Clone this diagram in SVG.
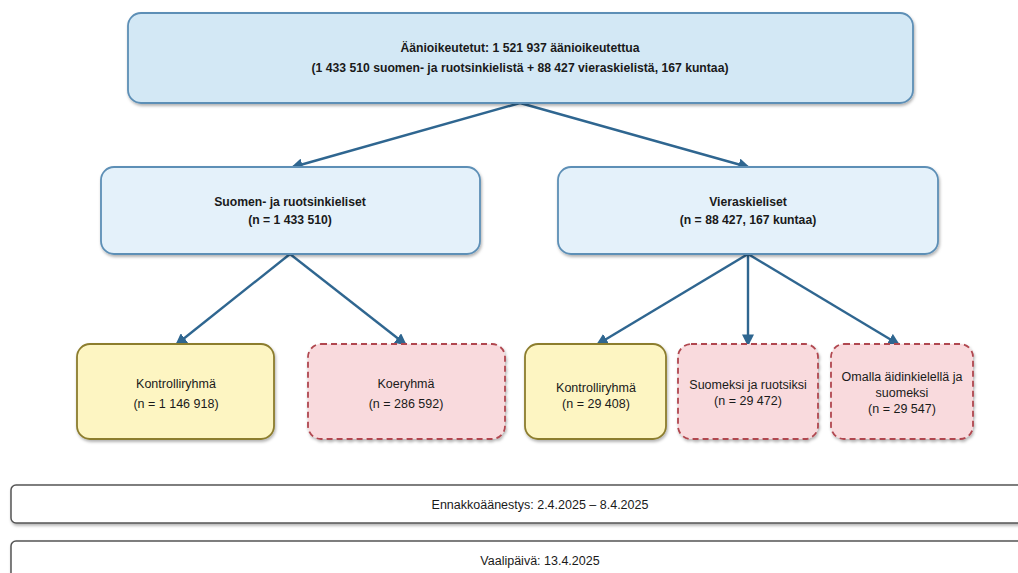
<svg xmlns="http://www.w3.org/2000/svg" width="1018" height="573" viewBox="0 0 1018 573">
<style>
text{font-family:"Liberation Sans",Arial,sans-serif;font-size:12.5px;fill:#1a1a1a;text-anchor:middle}
.b{font-weight:bold;font-size:12.2px}
.blue1{fill:#d3e8f5;stroke:#5d8fb6;stroke-width:1.8}
.blue2{fill:#e4f1fa;stroke:#5d8fb6;stroke-width:1.8}
.yel{fill:#fdf5c2;stroke:#8c7d2e;stroke-width:1.8}
.pink{fill:#f9dadd;stroke:#b0474f;stroke-width:1.8;stroke-dasharray:6 4}
.bar{fill:#ffffff;stroke:#555555;stroke-width:1.5}
.c{stroke:#2f6690;stroke-width:2.4;fill:none;marker-end:url(#ah)}
</style>
<defs>
<marker id="ah" viewBox="0 0 10 10" refX="8" refY="5" markerWidth="5" markerHeight="5" orient="auto" markerUnits="strokeWidth">
<path d="M0,0 L10,5 L0,10 z" fill="#2f6690"/>
</marker>
<filter id="sh" x="-5%" y="-5%" width="110%" height="120%">
<feDropShadow dx="1" dy="2" stdDeviation="1.5" flood-color="#000" flood-opacity="0.3"/>
</filter>
</defs>
<g id="connectors">
<line class="c" x1="520" y1="103" x2="293" y2="167"/>
<line class="c" x1="520" y1="103" x2="748" y2="167"/>
<line class="c" x1="290" y1="254" x2="177" y2="344"/>
<line class="c" x1="290" y1="254" x2="405" y2="344"/>
<line class="c" x1="748" y1="254" x2="598" y2="344"/>
<line class="c" x1="748" y1="254" x2="748" y2="344"/>
<line class="c" x1="748" y1="254" x2="898" y2="344"/>
</g>
<g id="top">
<rect class="blue1" x="128" y="13" width="785" height="90" rx="13" filter="url(#sh)"/>
<text class="b" x="520" y="52">Äänioikeutetut: 1 521 937 äänioikeutettua</text>
<text class="b" x="520" y="72">(1 433 510 suomen- ja ruotsinkielistä + 88 427 vieraskielistä, 167 kuntaa)</text>
</g>
<g id="suomen">
<rect class="blue2" x="101" y="167" width="379" height="87" rx="13" filter="url(#sh)"/>
<text class="b" x="290" y="206">Suomen- ja ruotsinkieliset</text>
<text class="b" x="290" y="224">(n = 1 433 510)</text>
</g>
<g id="vieras">
<rect class="blue2" x="558" y="167" width="380" height="87" rx="13" filter="url(#sh)"/>
<text class="b" x="748" y="206">Vieraskieliset</text>
<text class="b" x="748" y="224">(n = 88 427, 167 kuntaa)</text>
</g>
<g id="kontrolli1">
<rect class="yel" x="77" y="344" width="197" height="95" rx="13" filter="url(#sh)"/>
<text x="176" y="388">Kontrolliryhmä</text>
<text x="176" y="408">(n = 1 146 918)</text>
</g>
<g id="koe">
<rect class="pink" x="308" y="344" width="197" height="95" rx="13" filter="url(#sh)"/>
<text x="406" y="388">Koeryhmä</text>
<text x="406" y="408">(n = 286 592)</text>
</g>
<g id="kontrolli2">
<rect class="yel" x="525" y="344" width="141" height="95" rx="13" filter="url(#sh)"/>
<text x="596" y="392">Kontrolliryhmä</text>
<text x="596" y="408">(n = 29 408)</text>
</g>
<g id="suomruot">
<rect class="pink" x="678" y="344" width="140" height="95" rx="13" filter="url(#sh)"/>
<text x="748" y="389">Suomeksi ja ruotsiksi</text>
<text x="748" y="405">(n = 29 472)</text>
</g>
<g id="omalla">
<rect class="pink" x="831" y="344" width="142" height="95" rx="13" filter="url(#sh)"/>
<text x="902" y="381">Omalla äidinkielellä ja</text>
<text x="902" y="397">suomeksi</text>
<text x="902" y="413">(n = 29 547)</text>
</g>
<g id="ennakko">
<rect class="bar" x="11" y="485" width="1020" height="38" rx="5" filter="url(#sh)"/>
<text x="540" y="509">Ennakkoäänestys: 2.4.2025 – 8.4.2025</text>
</g>
<g id="vaalipaiva">
<rect class="bar" x="11" y="541" width="1020" height="45" rx="5" filter="url(#sh)"/>
<text x="540" y="565">Vaalipäivä: 13.4.2025</text>
</g>
</svg>
